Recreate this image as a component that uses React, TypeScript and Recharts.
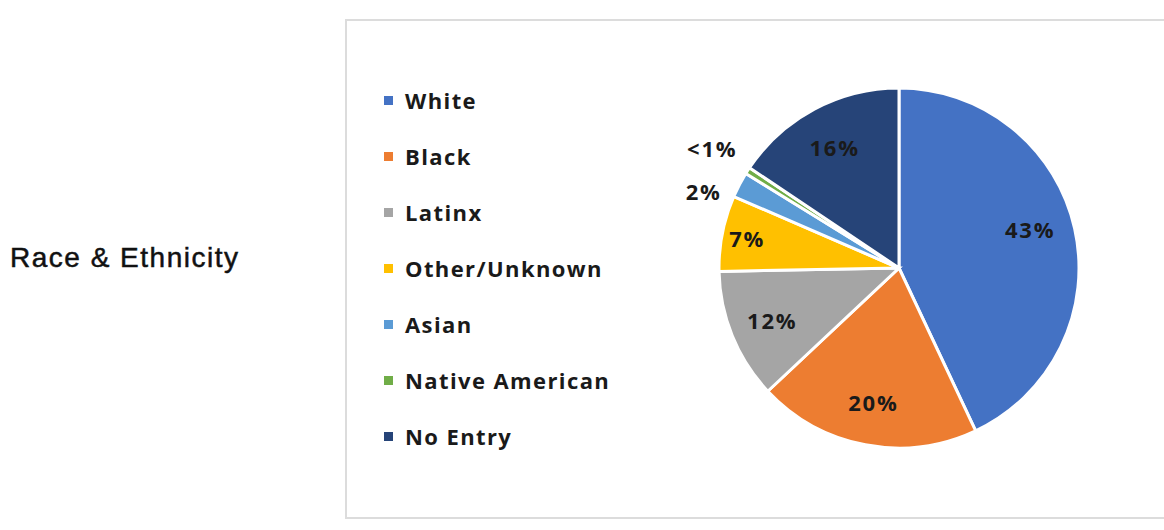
import React from "react";
import { PieChart, Pie, Cell } from "recharts";

const categories = ["White", "Black", "Latinx", "Other/Unknown", "Asian", "Native American", "No Entry"];
const shares = [43, 20, 11.7, 6.8, 2.3, 0.6, 15.6];
const labels = ["43%", "20%", "12%", "7%", "2%", "<1%", "16%"];
const colors = ["#4472C4", "#ED7D31", "#A5A5A5", "#FFC000", "#5B9BD5", "#70AD47", "#264478"];

const data = categories.map((name, i) => ({ name, value: shares[i], label: labels[i] }));

const RAD = Math.PI / 180;
const FONT = "'Open Sans', sans-serif";

// label placement tweaks (style only): radius factor / extra radius and angle shift
const labelRadius = (index: number, outerRadius: number) => {
  if (index === 4) return outerRadius + 30;
  if (index === 5) return outerRadius + 42;
  if (index === 3) return outerRadius * 0.86;
  return outerRadius * 0.76;
};
const labelShift = [4, 0, 0, 0, 6, 0, 0];

const renderLabel = (props: any) => {
  const { cx, cy, midAngle, outerRadius, index } = props;
  const r = labelRadius(index, outerRadius);
  const angle = midAngle + labelShift[index];
  const x = cx + r * Math.cos(-angle * RAD);
  const y = cy + r * Math.sin(-angle * RAD);
  return (
    <text
      x={x}
      y={y}
      textAnchor="middle"
      dominantBaseline="central"
      fill="#1a1a1a"
      fontFamily={FONT}
      fontWeight={700}
      fontSize={22}
      letterSpacing={1.8}
    >
      {labels[index]}
    </text>
  );
};

export default function App() {
  return (
    <div style={{ position: "absolute", left: 0, top: 0, width: 1164, height: 530, background: "#fff", overflow: "hidden" }}>
      <div
        style={{
          position: "absolute",
          left: 10,
          top: 240,
          fontFamily: "'Liberation Sans', sans-serif",
          fontSize: 28,
          color: "#111",
          letterSpacing: 1.5,
          lineHeight: "36px",
          WebkitTextStroke: "0.5px #111",
        }}
      >
        Race &amp; Ethnicity
      </div>
      <div
        style={{
          position: "absolute",
          left: 345,
          top: 19,
          width: 840,
          height: 496,
          border: "2px solid #dcdcdc",
        }}
      />
      <div style={{ position: "absolute", left: 384, top: 72, display: "flex", flexDirection: "column" }}>
        {data.map((d, i) => (
          <div key={d.name} style={{ display: "flex", alignItems: "center", height: 56 }}>
            <div style={{ width: 9, height: 9, background: colors[i], marginRight: 12 }} />
            <span style={{ fontFamily: FONT, fontWeight: 700, fontSize: 22, letterSpacing: 1.4, color: "#1a1a1a" }}>
              {d.name}
            </span>
          </div>
        ))}
      </div>
      <PieChart
        width={1164}
        height={530}
        margin={{ top: 0, right: 0, bottom: 0, left: 0 }}
        style={{ position: "absolute", left: 0, top: 0 }}
      >
        <Pie
          data={data}
          dataKey="value"
          nameKey="name"
          cx={899}
          cy={268}
          outerRadius={180}
          startAngle={90}
          endAngle={-270}
          stroke="#ffffff"
          strokeWidth={3}
          label={renderLabel}
          labelLine={false}
          isAnimationActive={false}
        >
          {data.map((d, i) => (
            <Cell key={d.name} fill={colors[i]} />
          ))}
        </Pie>
      </PieChart>
    </div>
  );
}
